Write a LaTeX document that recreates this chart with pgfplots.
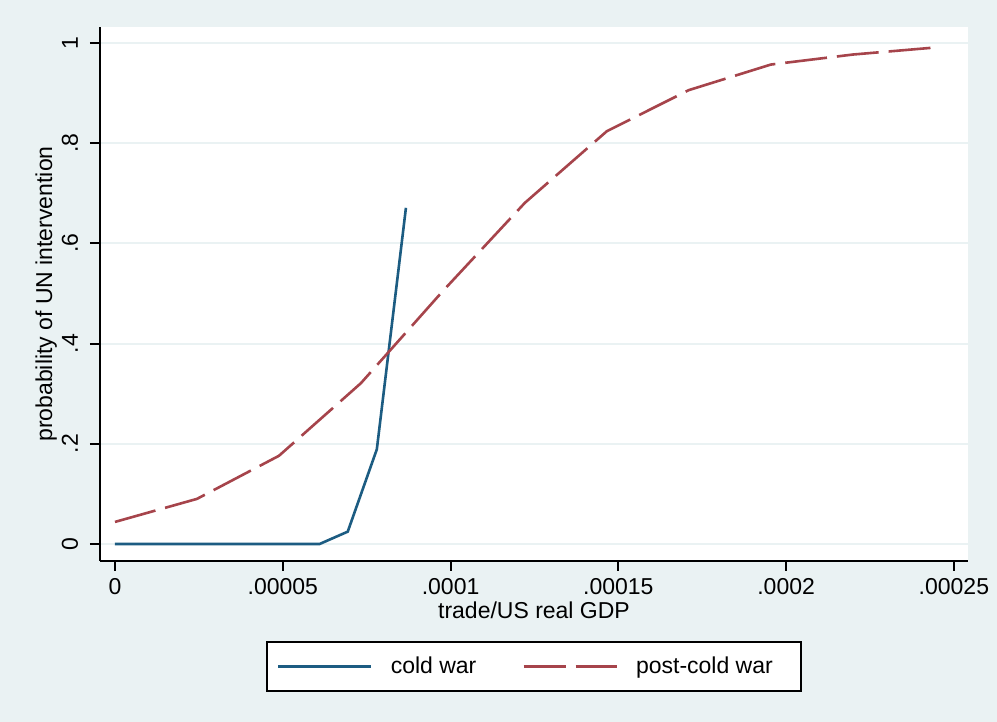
\documentclass[border=0pt]{standalone}
\usepackage{fontspec}
\setmainfont{Liberation Sans}
\usepackage{pgfplots}
\pgfplotsset{compat=1.18}
\definecolor{bgc}{RGB}{234,242,243}
\definecolor{cwblue}{RGB}{28,92,130}
\definecolor{pcred}{RGB}{166,68,75}
\newcommand{\fs}{\fontsize{23}{27}\selectfont}
\begin{document}
\begin{tikzpicture}[x=1pt,y=1pt]
\fill[bgc] (0,0) rectangle (997,722);
\useasboundingbox (0,0) rectangle (997,722);
\begin{axis}[
  at={(100pt,161pt)}, anchor=south west, scale only axis,
  width=868pt, height=534pt,
  xmin=-4.47e-6, xmax=2.542e-4, ymin=-0.034, ymax=1.032,
  axis lines*=left,
  axis line style={line width=2.6pt, black},
  axis background/.style={fill=white},
  tick align=outside,
  major tick length=10pt,
  tick style={black, line width=2pt},
  ymajorgrids, grid style={bgc, line width=2pt},
  xtick={0,0.00005,0.0001,0.00015,0.0002,0.00025},
  xticklabels={0,.00005,.0001,.00015,.0002,.00025},
  ytick={0,0.2,0.4,0.6,0.8,1},
  yticklabels={0,.2,.4,.6,.8,1},
  scaled x ticks=false, scaled y ticks=false,
  xticklabel style={font=\fs, anchor=north, inner sep=0pt, yshift=-7pt},
  yticklabel style={font=\fs, rotate=90, anchor=base, inner sep=0pt, yshift=12pt},
  xlabel={trade/US real GDP},
  ylabel={probability of UN intervention},
  xlabel style={font=\fs, at={(axis description cs:0.5,-0.1086)}, anchor=base, inner sep=0pt},
  ylabel style={font=\fs, at={(axis description cs:-0.0553,0.5)}, anchor=base, inner sep=0pt, rotate=0},
  legend columns=2,
  legend image code/.code={\draw[#1] (0pt,0pt) -- (93pt,0pt); \path (0pt,0pt) (111pt,0pt);},
  legend style={at={(axis description cs:0.5,-0.1976)}, anchor=center,
    draw=black, line width=2.5pt, fill=white, font=\fs,
    inner xsep=10pt, inner ysep=15pt,
    nodes={inner sep=0pt, text depth=0.2em},
    /tikz/every even column/.append style={column sep=46pt}},
]
\addplot[cwblue, line width=2.6pt] coordinates {
  (0,0) (0.867e-5,0) (1.734e-5,0) (2.601e-5,0) (3.468e-5,0) (4.335e-5,0)
  (5.202e-5,0) (6.10e-5,0) (6.936e-5,0.0246) (7.803e-5,0.189) (8.67e-5,0.671)
};
\addlegendentry{cold war}
\addplot[pcred, line width=2.6pt, dash pattern=on 42pt off 10pt] coordinates {
  (0,0.044) (2.443e-5,0.090) (4.886e-5,0.176) (7.329e-5,0.321) (9.772e-5,0.505)
  (1.2215e-4,0.681) (1.4658e-4,0.824) (1.7101e-4,0.906) (1.9544e-4,0.957)
  (2.1987e-4,0.977) (2.443e-4,0.991)
};
\addlegendentry{post-cold war\kern18pt}
\end{axis}
\end{tikzpicture}
\end{document}
